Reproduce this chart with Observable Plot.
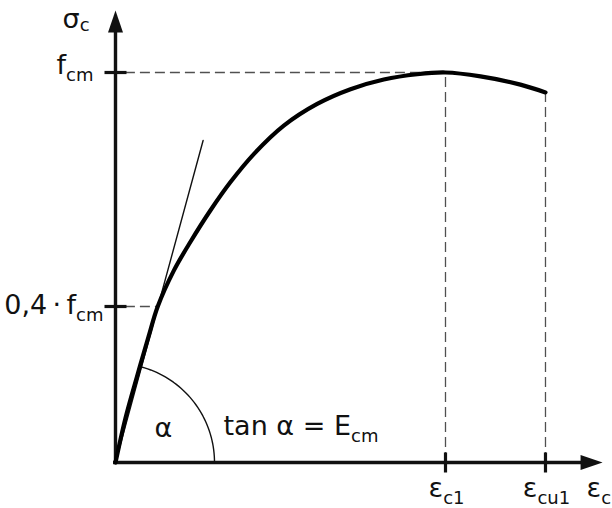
<!DOCTYPE html>
<html>
<head>
<meta charset="utf-8">
<script src="https://cdn.jsdelivr.net/npm/d3@7"></script>
<script src="https://cdn.jsdelivr.net/npm/@observablehq/plot@0.6"></script>
<style>
  html, body { margin: 0; padding: 0; background: #fff; }
  #chart { width: 612px; height: 508px; }
</style>
</head>
<body>
<div id="chart"></div>
<script>
// Concrete stress–strain curve, normalised: strain ε/εc1 and stress σc/fcm
const strain = [0, 0.03, 0.065, 0.1, 0.128, 0.1767, 0.2273, 0.2879, 0.3485, 0.4191, 0.510, 0.6112, 0.7121, 0.813, 0.9142, 1.0, 1.106, 1.227, 1.303];
const stress = [0, 0.113, 0.220, 0.322, 0.400, 0.492, 0.566, 0.6467, 0.719, 0.7908, 0.8638, 0.9195, 0.9572, 0.9821, 0.9956, 1.0, 0.990, 0.969, 0.949];

// Secant (modulus) line from the origin through 0,4·fcm
const secantStrain = [0, 0.2655];
const secantStress = [0, 0.8256];

// Tick positions and labels ("_" marks the start of a subscript)
const xTickValues = [1.0, 1.303];
const xTickLabels = ["ε_c1", "ε_cu1"];
const yTickValues = [0.4, 1.0];
const yTickLabels = ["0,4\u2009·\u2009f_cm", "f_cm"];
const xAxisLabel = "ε_c";
const yAxisLabel = "σ_c";
const angleLabel = "α";
const modulusLabel = "tan α = E_cm";

// Layout
const W = 612, H = 508;
const mL = 115, mR = 2, mT = 2, mB = 46;
const xMax = 1.5, yMax = 1.1795;
const xTip = 1.476, yTip = 1.159;       // ends of the axis arrows
const pxPerX = (W - mL - mR) / xMax;
const pxPerY = (H - mT - mB) / yMax;
const FONT = 27, SUB = 18;

const curve = strain.map((e, i) => ({e, s: stress[i]}));
const secant = secantStrain.map((e, i) => ({e, s: secantStress[i]}));
const peakIndex = stress.indexOf(d3.max(stress));
const lastIndex = stress.length - 1;
const secantHit = stress.indexOf(yTickValues[0]);

// Angle arc between the x-axis and the secant line (radius in pixels)
const arcRadius = 99;
const alpha = Math.atan((secantStress[1] * pxPerY) / (secantStrain[1] * pxPerX));
const arc = d3.range(0, 41).map(i => {
  const t = alpha * i / 40;
  return {e: arcRadius * Math.cos(t) / pxPerX, s: arcRadius * Math.sin(t) / pxPerY};
});

// Filled arrowhead with its tip at the symbol origin, pointing up
const arrowHead = {draw(ctx) { ctx.moveTo(0, 0); ctx.lineTo(-7.5, 22); ctx.lineTo(7.5, 22); ctx.closePath(); }};
const tickH = {draw(ctx) { ctx.rect(-11, -1.6, 22, 3.2); }};
const tickV = {draw(ctx) { ctx.rect(-1.6, -10, 3.2, 20); }};

const dash = {stroke: "#505050", strokeWidth: 1.3, strokeDasharray: "10,5"};

const chart = Plot.plot({
  width: W, height: H,
  marginLeft: mL, marginRight: mR, marginTop: mT, marginBottom: mB,
  x: {domain: [0, xMax], axis: null},
  y: {domain: [0, yMax], axis: null},
  style: {fontFamily: "DejaVu Sans", fontSize: FONT + "px", background: "#fff", color: "#111"},
  marks: [
    // guide lines
    Plot.ruleY([stress[peakIndex]], {x1: 0.03, x2: strain[peakIndex], ...dash}),
    Plot.ruleX([strain[peakIndex]], {y1: 0, y2: stress[peakIndex], ...dash}),
    Plot.ruleY([yTickValues[0]], {x1: 0.03, x2: strain[secantHit], ...dash}),
    Plot.ruleX([strain[lastIndex]], {y1: 0, y2: stress[lastIndex], ...dash}),
    // axes
    Plot.ruleX([0], {y1: 0, y2: yTip - 0.03, stroke: "#111", strokeWidth: 3.4}),
    Plot.ruleY([0], {x1: -0.006, x2: xTip - 0.03, stroke: "#111", strokeWidth: 3.4}),
    Plot.dot([{e: 0, s: yTip}], {x: "e", y: "s", symbol: arrowHead, fill: "#111", stroke: null, r: 10}),
    Plot.dot([{e: xTip, s: 0}], {x: "e", y: "s", symbol: arrowHead, rotate: 90, fill: "#111", stroke: null, r: 10}),
    Plot.dot(yTickValues, {x: 0, y: d => d, symbol: tickH, fill: "#111", stroke: null, r: 10}),
    Plot.dot(xTickValues, {x: d => d, y: 0, symbol: tickV, fill: "#111", stroke: null, r: 10}),
    // angle arc and secant
    Plot.line(arc, {x: "e", y: "s", stroke: "#111", strokeWidth: 1.4}),
    Plot.line(secant, {x: "e", y: "s", stroke: "#111", strokeWidth: 1.4}),
    // stress–strain curve
    Plot.line(curve, {x: "e", y: "s", curve: "catmull-rom", stroke: "#000", strokeWidth: 4.2}),
    // labels
    Plot.text([yTickLabels[0]], {x: 0, y: yTickValues[0], text: d => d, textAnchor: "end", dx: -12, dy: -1, fontSize: FONT}),
    Plot.text([yTickLabels[1]], {x: 0, y: yTickValues[1], text: d => d, textAnchor: "end", dx: -22, dy: -7, fontSize: FONT}),
    Plot.text(xTickLabels, {x: (d, i) => xTickValues[i], y: 0, text: d => d, textAnchor: "middle", dx: 1, dy: 26, fontSize: FONT}),
    Plot.text([xAxisLabel], {x: xTip, y: 0, text: d => d, textAnchor: "start", dx: -16, dy: 26, fontSize: FONT}),
    Plot.text([yAxisLabel], {x: 0, y: yTip, text: d => d, textAnchor: "start", dx: -53, dy: 9, fontSize: FONT}),
    Plot.text([angleLabel], {x: 0, y: 0, text: d => d, textAnchor: "middle", dx: 48, dy: -34, fontSize: FONT}),
    Plot.text([modulusLabel], {x: 0, y: 0, text: d => d, textAnchor: "start", dx: 108, dy: -36, fontSize: FONT})
  ]
});

// Turn "_" into a lowered, smaller subscript
const NS = "http://www.w3.org/2000/svg";
chart.querySelectorAll("text").forEach(t => {
  const s = t.textContent;
  if (!s.includes("_")) return;
  const [main, sub] = s.split("_");
  t.textContent = "";
  const a = document.createElementNS(NS, "tspan");
  a.textContent = main;
  const b = document.createElementNS(NS, "tspan");
  b.textContent = sub;
  b.setAttribute("font-size", SUB);
  b.setAttribute("dy", main === "σ" ? 3 : 7);
  t.append(a, b);
});

document.getElementById("chart").append(chart);
</script>
</body>
</html>
